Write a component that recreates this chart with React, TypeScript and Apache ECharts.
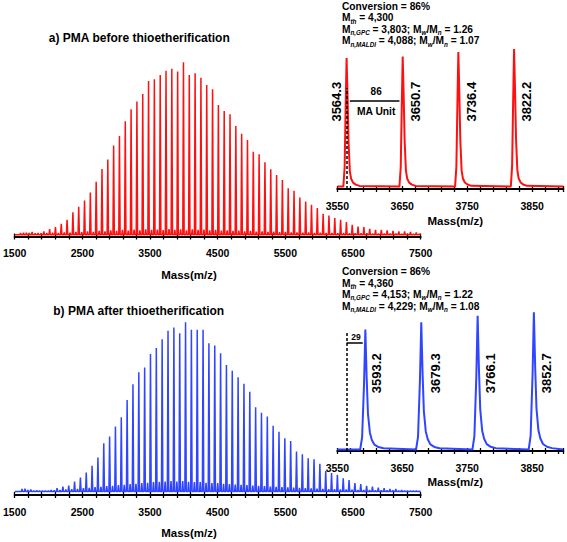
import React, { useEffect, useRef } from "react";
import * as echarts from "echarts";

const FONT = "'Liberation Sans', Arial, Helvetica, sans-serif";
const RED = "#ff1010";
const BLUE = "#2f45ff";

// ---------- axes ----------
const MAIN_MIN = 1500;
const MAIN_MAX = 7500;
const MAIN_TICK_STEP = 200;
const mainTickLabels = [1500, 2500, 3500, 4500, 5500, 6500, 7500];

const INSET_MIN = 3550;
const INSET_MAX = 3898;
const INSET_TICK_STEP = 20;
const insetTickLabels = [3550, 3650, 3750, 3850];

// ---------- a) PMA before thioetherification (main spectrum) ----------
const topPeakMass = [
  1586.3, 1672.3, 1758.3, 1844.3, 1930.3, 2016.3, 2102.3, 2188.3, 2274.3, 2360.3,
  2446.3, 2532.3, 2618.3, 2704.3, 2790.3, 2876.3, 2962.3, 3048.3, 3134.3, 3220.3,
  3306.3, 3392.3, 3478.3, 3564.3, 3650.7, 3736.4, 3822.2, 3908.3, 3994.3, 4080.3,
  4166.3, 4252.3, 4338.3, 4424.3, 4510.3, 4596.3, 4682.3, 4768.3, 4854.3, 4940.3,
  5026.3, 5112.3, 5198.3, 5284.3, 5370.3, 5456.3, 5542.3, 5628.3, 5714.3, 5800.3,
  5886.3, 5972.3, 6058.3, 6144.3, 6230.3, 6316.3, 6402.3, 6488.3, 6574.3, 6660.3,
  6746.3, 6832.3, 6918.3, 7004.3, 7090.3, 7176.3, 7262.3, 7348.3, 7434.3,
];
const topPeakIntensity = [
  1.0, 1.2, 1.7, 1.0, 1.9, 3.3, 4.5, 6.4, 8.7, 13.1,
  16.2, 19.9, 24.5, 30.7, 38.2, 43.6, 51.7, 57.3, 65.8, 72.8,
  77.2, 81.6, 89.2, 90.2, 92.6, 95.1, 96.3, 94.6, 100, 92.6,
  93.6, 91.1, 86.9, 84.4, 75.3, 71.8, 69.9, 63.1, 58.5, 55.0,
  48.2, 46.7, 42.1, 38.0, 34.7, 31.8, 27.0, 25.5, 21.6, 19.3,
  17.4, 15.5, 12.2, 11.2, 9.7, 8.7, 7.4, 5.8, 4.8, 4.5,
  3.5, 2.9, 2.9, 2.5, 2.3, 1.9, 1.9, 1.6, 1.3,
];
const topSideIntensity = [
  1.2, 1.0, 0.8, 0.8, 1.0, 1.2, 1.0, 1.4, 1.2, 1.6,
  1.5, 2.0, 1.7, 2.2, 2.0, 2.5, 2.2, 2.8, 2.4, 3.0,
  2.6, 3.2, 2.8, 3.0, 2.7, 3.3, 2.9, 3.1, 2.6, 3.2,
  2.8, 3.0, 2.6, 2.8, 2.4, 2.6, 2.2, 2.4, 2.0, 2.2,
  1.8, 2.0, 1.6, 1.8, 1.5, 1.6, 1.3, 1.4, 1.2, 1.3,
  1.1, 1.2, 1.0, 1.1, 0.9, 1.0, 0.9, 0.9, 0.8, 0.8,
  0.7, 0.7, 0.6, 0.6, 0.6, 0.5, 0.5, 0.5, 0.4,
];

// ---------- b) PMA after thioetherification (main spectrum) ----------
const bottomPeakMass = [
  1608.3, 1694.6, 1780.9, 1867.2, 1953.5, 2039.8, 2126.1, 2212.4, 2298.7, 2385.0,
  2471.3, 2557.6, 2643.9, 2730.2, 2816.5, 2902.8, 2989.1, 3075.4, 3161.7, 3248.0,
  3334.3, 3420.6, 3506.9, 3593.2, 3679.3, 3766.1, 3852.7, 3938.8, 4025.1, 4111.4,
  4197.7, 4284.0, 4370.3, 4456.6, 4542.9, 4629.2, 4715.5, 4801.8, 4888.1, 4974.4,
  5060.7, 5147.0, 5233.3, 5319.6, 5405.9, 5492.2, 5578.5, 5664.8, 5751.1, 5837.4,
  5923.7, 6010.0, 6096.3, 6182.6, 6268.9, 6355.2, 6441.5, 6527.8, 6614.1, 6700.4,
  6786.7, 6873.0, 6959.3, 7045.6, 7131.9, 7218.2, 7304.5, 7390.8, 7477.1,
];
const bottomPeakIntensity = [
  1.6, 1.0, 0.6, 0.6, 0.6, 1.0, 2.0, 3.0, 3.5, 5.9,
  8.3, 11.2, 15.3, 20.1, 28.6, 32.5, 38.4, 43.9, 54.1, 63.4,
  70.5, 73.2, 81.3, 84.7, 90.0, 94.9, 96.8, 93.5, 100, 95.5,
  95.5, 95.5, 87.6, 86.2, 81.7, 74.8, 71.3, 67.5, 63.6, 59.0,
  49.8, 46.6, 44.3, 38.8, 35.4, 31.5, 29.9, 23.6, 22.1, 19.7,
  19.1, 16.4, 12.2, 10.9, 9.9, 7.9, 6.9, 5.0, 4.4, 3.4,
  3.0, 2.4, 2.0, 1.6, 1.6, 1.0, 0.6, 0.6, 0.4,
];
const bottomSideIntensity = [
  1.8, 1.2, 0.8, 0.6, 0.6, 0.8, 1.0, 1.2, 1.5, 1.6,
  2.0, 2.2, 2.6, 2.8, 3.2, 3.4, 3.8, 4.0, 4.4, 4.6,
  5.0, 5.2, 5.6, 5.8, 6.0, 6.2, 6.0, 6.2, 5.8, 5.6,
  5.6, 5.2, 5.0, 5.0, 4.6, 4.4, 4.2, 4.0, 3.8, 3.6,
  3.4, 3.2, 3.0, 2.8, 2.6, 2.5, 2.3, 2.2, 2.0, 1.9,
  1.8, 1.6, 1.5, 1.4, 1.3, 1.2, 1.1, 1.0, 1.0, 0.9,
  0.8, 0.8, 0.7, 0.7, 0.6, 0.6, 0.5, 0.5, 0.4,
];
const SIDE_SHIFT = 44;
const MAIN_HALF_WIDTH = 10;

// ---------- insets ----------
const topInsetMass = [3564.3, 3650.7, 3736.4, 3822.2];
const topInsetIntensity = [93.5, 94.5, 97.8, 100];
const bottomInsetMass = [3593.2, 3679.3, 3766.1, 3852.7];
const bottomInsetIntensity = [87.4, 92.7, 97.6, 100];

const topShapeOffset = [-5, -3, -1.5, 0, 1.5, 3, 5, 7, 10, 14, 20];
const topShapeRel = [0, 0.15, 0.6, 1, 0.7, 0.35, 0.12, 0.06, 0.03, 0.015, 0.005];
const bottomShapeOffset = [-8, -5, -2, 0, 2, 4, 7, 10, 14, 20, 28];
const bottomShapeRel = [0, 0.1, 0.55, 1, 0.6, 0.3, 0.14, 0.08, 0.04, 0.02, 0.01];

const REF_MASS = 3564.3; // dashed reference line in both insets
const topStats = ["86%", "4,300", "3,803", "1.26", "4,088", "1.07"];
const bottomStats = ["86%", "4,360", "4,153", "1.22", "4,229", "1.08"];

// y ranges (relative intensity)
const Y_RANGES = [
  [-1, 100.75],
  [-1.8, 101.5],
  [-2, 101.3],
  [-1.1, 101],
];

function buildMain(masses: number[], ints: number[], sides: number[]) {
  const span = MAIN_MAX - MAIN_MIN;
  const pts: number[][] = [[0, 0]];
  masses.forEach((m, i) => {
    const x = m - MAIN_MIN;
    pts.push([x - MAIN_HALF_WIDTH, 0], [x, ints[i]], [x + MAIN_HALF_WIDTH, 0]);
    const s = x + SIDE_SHIFT;
    if (s + MAIN_HALF_WIDTH < span) {
      pts.push([s - MAIN_HALF_WIDTH, 0], [s, sides[i] ?? 0], [s + MAIN_HALF_WIDTH, 0]);
    }
  });
  pts.push([span, 0]);
  return pts;
}

function buildInset(masses: number[], ints: number[], offs: number[], rel: number[]) {
  const pts: number[][] = [[0, 0]];
  masses.forEach((m, i) => {
    offs.forEach((o, j) => pts.push([m - INSET_MIN + o, ints[i] * rel[j]]));
  });
  pts.push([INSET_MAX - INSET_MIN, 0]);
  return pts;
}

function axisPair(gridIndex: number, span: number, step: number, labels: number[], origin: number, margin: number, lw: number) {
  const common = {
    type: "value",
    gridIndex,
    position: "bottom",
    min: 0,
    max: span,
    interval: step,
    splitLine: { show: false },
  };
  return [
    {
      ...common,
      axisLine: { show: true, onZero: false, lineStyle: { color: "#000", width: lw } },
      axisTick: { show: true, inside: false, length: 3, lineStyle: { color: "#000", width: 1.3 } },
      axisLabel: {
        show: true,
        margin,
        fontSize: 10.5,
        fontWeight: "bold",
        fontFamily: FONT,
        color: "#000",
        formatter: (v: number) => {
          const m = Math.round(v + origin);
          return labels.includes(m) ? String(m) : "";
        },
      },
    },
    {
      ...common,
      axisLine: { show: false, onZero: false },
      axisTick: { show: true, inside: true, length: 3, lineStyle: { color: "#000", width: 1.3 } },
      axisLabel: { show: false },
    },
  ];
}

function statsText(s: string[]) {
  return (
    "Conversion = " + s[0] +
    "\nM{s|th} = " + s[1] +
    "\nM{s|n,GPC} = " + s[2] + "; M{s|w}/M{s|n} = " + s[3] +
    "\nM{s|n,MALDI} = " + s[4] + "; M{s|w}/M{s|n} = " + s[5]
  );
}

export default function App() {
  const ref = useRef<HTMLDivElement>(null);

  useEffect(() => {
    if (!ref.current) return;
    const chart = echarts.init(ref.current, null, { renderer: "svg" });
    const mainSpan = MAIN_MAX - MAIN_MIN;
    const insetSpan = INSET_MAX - INSET_MIN;

    const dashed = { type: [3, 2], color: "#000", width: 1.5 };
    const solid = { type: "solid", color: "#000", width: 1.5 };

    const option: any = {
      animation: false,
      backgroundColor: "#ffffff",
      grid: [
        { left: 12.7, top: 61, width: 408, height: 175.5 },
        { left: 337.3, top: 47, width: 226, height: 142 },
        { left: 12.7, top: 320, width: 408, height: 175 },
        { left: 337.3, top: 311, width: 226, height: 140 },
      ],
      xAxis: [
        ...axisPair(0, mainSpan, MAIN_TICK_STEP, mainTickLabels, MAIN_MIN, 10.5, 2),
        ...axisPair(1, insetSpan, INSET_TICK_STEP, insetTickLabels, INSET_MIN, 11.5, 2),
        ...axisPair(2, mainSpan, MAIN_TICK_STEP, mainTickLabels, MAIN_MIN, 11.5, 2),
        ...axisPair(3, insetSpan, INSET_TICK_STEP, insetTickLabels, INSET_MIN, 11.5, 2),
      ],
      yAxis: Y_RANGES.map((r, i) => ({
        type: "value",
        gridIndex: i,
        min: r[0],
        max: r[1],
        show: false,
        splitLine: { show: false },
      })),
      series: [
        {
          type: "line",
          xAxisIndex: 0,
          yAxisIndex: 0,
          data: buildMain(topPeakMass, topPeakIntensity, topSideIntensity),
          showSymbol: false,
          symbol: "none",
          silent: true,
          lineStyle: { color: RED, width: 1.5 },
          itemStyle: { color: RED },
        },
        {
          type: "line",
          xAxisIndex: 2,
          yAxisIndex: 1,
          data: buildInset(topInsetMass, topInsetIntensity, topShapeOffset, topShapeRel),
          showSymbol: false,
          symbol: "none",
          silent: true,
          lineStyle: { color: RED, width: 2 },
          itemStyle: { color: RED },
          markLine: {
            silent: true,
            symbol: ["none", "none"],
            label: { show: false },
            data: [
              [
                { coord: [REF_MASS - INSET_MIN, Y_RANGES[1][0]], lineStyle: dashed },
                { coord: [REF_MASS - INSET_MIN, 71.7], lineStyle: dashed },
              ],
              [
                { coord: [topInsetMass[0] + 5 - INSET_MIN, 62.6], lineStyle: solid },
                { coord: [topInsetMass[1] - 5 - INSET_MIN, 62.6], lineStyle: solid },
              ],
            ],
          },
        },
        {
          type: "line",
          xAxisIndex: 4,
          yAxisIndex: 2,
          data: buildMain(bottomPeakMass, bottomPeakIntensity, bottomSideIntensity),
          showSymbol: false,
          symbol: "none",
          silent: true,
          lineStyle: { color: BLUE, width: 1.5 },
          itemStyle: { color: BLUE },
        },
        {
          type: "line",
          xAxisIndex: 6,
          yAxisIndex: 3,
          data: buildInset(bottomInsetMass, bottomInsetIntensity, bottomShapeOffset, bottomShapeRel),
          showSymbol: false,
          symbol: "none",
          silent: true,
          lineStyle: { color: BLUE, width: 2 },
          itemStyle: { color: BLUE },
          markLine: {
            silent: true,
            symbol: ["none", "none"],
            label: { show: false },
            data: [
              [
                { coord: [REF_MASS - INSET_MIN, Y_RANGES[3][0]], lineStyle: dashed },
                { coord: [REF_MASS - INSET_MIN, 85.7], lineStyle: dashed },
              ],
              [
                { coord: [REF_MASS - INSET_MIN, 77.5], lineStyle: solid },
                { coord: [bottomInsetMass[0] - 4 - INSET_MIN, 77.5], lineStyle: solid },
              ],
            ],
          },
        },
      ],
    };
    chart.setOption(option);

    const px = (seriesIndex: number, x: number, y: number) =>
      chart.convertToPixel({ seriesIndex } as any, [x, y]) as number[];

    const txt = (x: number, y: number, text: string, size: number, extra: any = {}) => ({
      type: "text",
      x,
      y,
      silent: true,
      rotation: extra.rotation || 0,
      style: {
        text,
        fill: "#000",
        fontFamily: FONT,
        fontWeight: "bold",
        fontSize: size,
        align: extra.align || "center",
        verticalAlign: extra.verticalAlign || "middle",
        textAlign: extra.align || "center",
        textVerticalAlign: extra.verticalAlign || "middle",
        ...(extra.style || {}),
      },
    });

    const rich = {
      s: {
        fontSize: 6.3,
        fontStyle: "italic",
        fontWeight: "bold",
        fontFamily: FONT,
        fill: "#000",
        lineHeight: 8,
        verticalAlign: "top",
        padding: [6, 0, 0, 0],
      },
    };

    const graphics: any[] = [];
    graphics.push(txt(139.3, 38, "a) PMA before thioetherification", 12));
    graphics.push(txt(138.7, 310.7, "b) PMA after thioetherification", 12));
    graphics.push(txt(189, 275, "Mass(m/z)", 11.5));
    graphics.push(txt(189, 533.3, "Mass(m/z)", 11.5));
    graphics.push(txt(455.3, 220.7, "Mass(m/z)", 11.5));
    graphics.push(txt(455.3, 482.3, "Mass(m/z)", 11.5));
    graphics.push(
      txt(342, 0.5, statsText(topStats), 10.2, {
        align: "left",
        verticalAlign: "top",
        style: { lineHeight: 11.5, rich },
      })
    );
    graphics.push(
      txt(342, 265.8, statsText(bottomStats), 10.2, {
        align: "left",
        verticalAlign: "top",
        style: { lineHeight: 11.5, rich },
      })
    );

    const topLabelDx = [-10, 12.6, 12.9, 12.1];
    topInsetMass.forEach((m, i) => {
      const p = px(1, m - INSET_MIN, 61.7);
      graphics.push(txt(p[0] + topLabelDx[i], p[1], m.toFixed(1), 13, { rotation: Math.PI / 2 }));
    });
    const bottomLabelDx = [11.3, 13.8, 13.2, 12.3];
    bottomInsetMass.forEach((m, i) => {
      const p = px(3, m - INSET_MIN, 55.6);
      graphics.push(txt(p[0] + bottomLabelDx[i], p[1], m.toFixed(1), 13, { rotation: Math.PI / 2 }));
    });

    const mid86 = px(1, (topInsetMass[0] + topInsetMass[1]) / 2 - INSET_MIN, 62.6);
    graphics.push(txt(mid86[0] + 1.5, mid86[1] - 8.5, "86", 10));
    graphics.push(txt(mid86[0] + 1.5, mid86[1] + 11.5, "MA Unit", 10.3));
    const mid29 = px(3, (REF_MASS + bottomInsetMass[0]) / 2 - INSET_MIN, 77.5);
    graphics.push(txt(mid29[0], mid29[1] - 6.6, "29", 8.5));

    chart.setOption({ graphic: graphics });

    return () => chart.dispose();
  }, []);

  return (
    <div
      ref={ref}
      style={{ position: "absolute", left: 0, top: 0, width: 567, height: 542, background: "#fff" }}
    />
  );
}
